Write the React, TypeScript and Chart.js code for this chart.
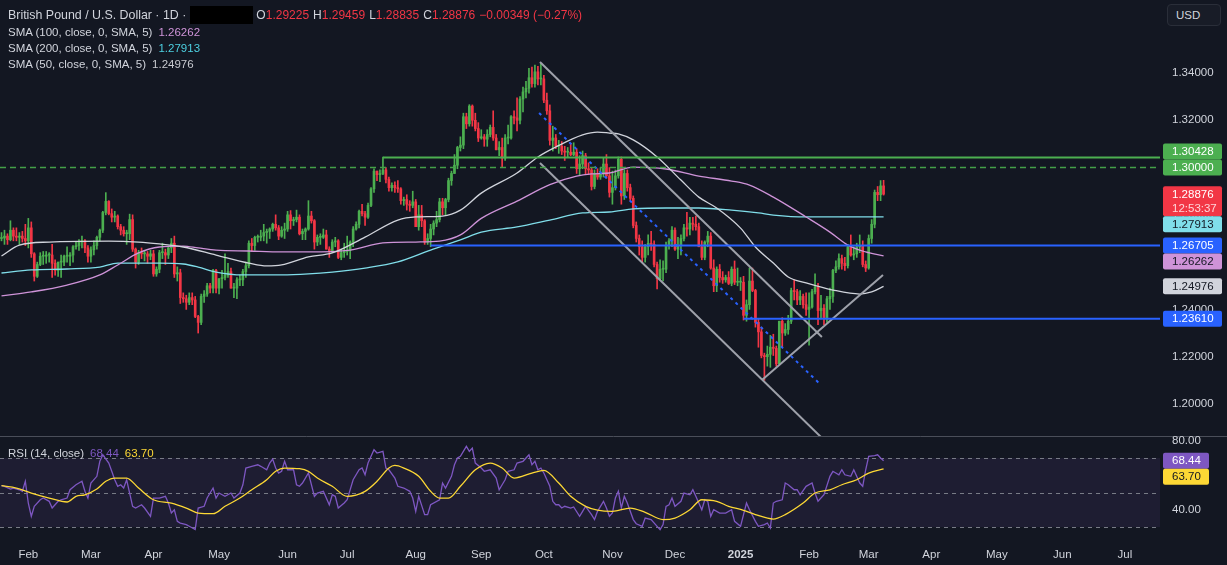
import React, { useEffect, useRef } from 'react';
import { Chart, registerables } from 'chart.js';

Chart.register(...registerables);

// ---------------- data ----------------
// daily candles as [high, low, close]; open = previous close
const firstOpen = 1.27;
const jan24 = [
  [1.2725, 1.2690, 1.2702], [1.2735, 1.2675, 1.2710], [1.2720, 1.2675, 1.2695], [1.2775, 1.2690, 1.2735],
  [1.2745, 1.2690, 1.2710], [1.2745, 1.2690, 1.2705], [1.2725, 1.2675, 1.2710], [1.2730, 1.2685, 1.2700],
  [1.2760, 1.2670, 1.2690],
];
const feb24 = [
  [1.2785, 1.2660, 1.2745], [1.2770, 1.2620, 1.2635], [1.2640, 1.2520, 1.2540], [1.2600, 1.2535, 1.2590],
  [1.2640, 1.2585, 1.2625], [1.2645, 1.2590, 1.2625], [1.2645, 1.2595, 1.2630], [1.2640, 1.2600, 1.2630],
  [1.2675, 1.2535, 1.2595], [1.2610, 1.2545, 1.2565], [1.2600, 1.2540, 1.2600], [1.2630, 1.2535, 1.2600],
  [1.2630, 1.2585, 1.2625], [1.2665, 1.2600, 1.2625], [1.2640, 1.2585, 1.2630], [1.2670, 1.2600, 1.2665],
  [1.2685, 1.2655, 1.2670], [1.2695, 1.2650, 1.2685], [1.2710, 1.2660, 1.2690], [1.2695, 1.2640, 1.2660],
  [1.2670, 1.2600, 1.2625],
];
const mar24 = [
  [1.2665, 1.2600, 1.2652], [1.2690, 1.2630, 1.2670], [1.2710, 1.2655, 1.2705], [1.2740, 1.2690, 1.2735],
  [1.2815, 1.2725, 1.2810], [1.2894, 1.2800, 1.2857], [1.2860, 1.2800, 1.2805], [1.2825, 1.2770, 1.2790],
  [1.2815, 1.2770, 1.2795], [1.2800, 1.2740, 1.2750], [1.2760, 1.2715, 1.2735], [1.2750, 1.2710, 1.2720],
  [1.2735, 1.2675, 1.2720], [1.2803, 1.2695, 1.2780], [1.2800, 1.2645, 1.2655], [1.2660, 1.2575, 1.2600],
  [1.2650, 1.2590, 1.2640], [1.2660, 1.2615, 1.2635], [1.2650, 1.2605, 1.2635], [1.2645, 1.2595, 1.2625],
  [1.2650, 1.2610, 1.2635],
];
const apr24 = [
  [1.2650, 1.2540, 1.2550], [1.2580, 1.2540, 1.2570], [1.2650, 1.2555, 1.2640], [1.2680, 1.2615, 1.2640],
  [1.2655, 1.2590, 1.2630], [1.2665, 1.2615, 1.2660], [1.2700, 1.2640, 1.2680], [1.2710, 1.2535, 1.2550],
  [1.2580, 1.2520, 1.2555], [1.2570, 1.2425, 1.2450], [1.2470, 1.2430, 1.2445], [1.2460, 1.2400, 1.2430],
  [1.2470, 1.2420, 1.2450], [1.2470, 1.2420, 1.2440], [1.2455, 1.2365, 1.2370], [1.2375, 1.2300, 1.2345],
  [1.2465, 1.2335, 1.2455], [1.2480, 1.2430, 1.2465], [1.2510, 1.2455, 1.2500], [1.2510, 1.2470, 1.2490],
  [1.2570, 1.2470, 1.2565], [1.2570, 1.2470, 1.2490],
];
const may24 = [
  [1.2530, 1.2465, 1.2530], [1.2565, 1.2490, 1.2535], [1.2635, 1.2525, 1.2545], [1.2595, 1.2535, 1.2560],
  [1.2575, 1.2490, 1.2490], [1.2510, 1.2450, 1.2490], [1.2535, 1.2445, 1.2525], [1.2545, 1.2500, 1.2525],
  [1.2570, 1.2500, 1.2560], [1.2600, 1.2535, 1.2585], [1.2690, 1.2575, 1.2680], [1.2700, 1.2645, 1.2670],
  [1.2710, 1.2650, 1.2705], [1.2715, 1.2685, 1.2705], [1.2735, 1.2690, 1.2710], [1.2760, 1.2690, 1.2725],
  [1.2740, 1.2680, 1.2730], [1.2745, 1.2700, 1.2740], [1.2765, 1.2730, 1.2760], [1.2800, 1.2735, 1.2745],
  [1.2755, 1.2695, 1.2710], [1.2750, 1.2705, 1.2735], [1.2765, 1.2700, 1.2740],
];
const jun24 = [
  [1.2815, 1.2730, 1.2800], [1.2818, 1.2740, 1.2775], [1.2790, 1.2755, 1.2780], [1.2820, 1.2770, 1.2790],
  [1.2800, 1.2715, 1.2720], [1.2740, 1.2695, 1.2730], [1.2745, 1.2695, 1.2740], [1.2860, 1.2735, 1.2795],
  [1.2815, 1.2765, 1.2775], [1.2780, 1.2655, 1.2685], [1.2715, 1.2670, 1.2705], [1.2720, 1.2675, 1.2705],
  [1.2740, 1.2700, 1.2715], [1.2735, 1.2655, 1.2655], [1.2665, 1.2620, 1.2645], [1.2695, 1.2640, 1.2685],
  [1.2705, 1.2665, 1.2690], [1.2695, 1.2615, 1.2620], [1.2655, 1.2610, 1.2640], [1.2680, 1.2620, 1.2645],
];
const jul24 = [
  [1.2710, 1.2630, 1.2650], [1.2690, 1.2615, 1.2685], [1.2750, 1.2665, 1.2740], [1.2770, 1.2735, 1.2760],
  [1.2820, 1.2745, 1.2815], [1.2845, 1.2795, 1.2805], [1.2815, 1.2755, 1.2790], [1.2850, 1.2785, 1.2840],
  [1.2915, 1.2835, 1.2910], [1.2995, 1.2895, 1.2985], [1.2985, 1.2945, 1.2970], [1.2990, 1.2940, 1.2975],
  [1.3044, 1.2970, 1.2990], [1.3000, 1.2935, 1.2950], [1.2960, 1.2900, 1.2915], [1.2935, 1.2900, 1.2925],
  [1.2940, 1.2895, 1.2915], [1.2945, 1.2895, 1.2910], [1.2915, 1.2845, 1.2860], [1.2875, 1.2840, 1.2865],
  [1.2885, 1.2820, 1.2845], [1.2860, 1.2815, 1.2840], [1.2900, 1.2830, 1.2855],
];
const aug24 = [
  [1.2865, 1.2750, 1.2750], [1.2840, 1.2735, 1.2800], [1.2840, 1.2750, 1.2775], [1.2780, 1.2675, 1.2685],
  [1.2720, 1.2675, 1.2700], [1.2760, 1.2665, 1.2740], [1.2775, 1.2715, 1.2765], [1.2815, 1.2750, 1.2780],
  [1.2870, 1.2770, 1.2855], [1.2870, 1.2800, 1.2830], [1.2870, 1.2800, 1.2865], [1.2955, 1.2855, 1.2945],
  [1.2985, 1.2925, 1.2975], [1.3055, 1.2975, 1.3010], [1.3090, 1.2995, 1.3085], [1.3130, 1.3070, 1.3095],
  [1.3230, 1.3080, 1.3215], [1.3230, 1.3165, 1.3185], [1.3266, 1.3175, 1.3260], [1.3265, 1.3175, 1.3200],
  [1.3230, 1.3155, 1.3165], [1.3190, 1.3110, 1.3125],
];
const sep24 = [
  [1.3160, 1.3120, 1.3130], [1.3140, 1.3090, 1.3120], [1.3160, 1.3090, 1.3140], [1.3180, 1.3130, 1.3170],
  [1.3240, 1.3115, 1.3125], [1.3140, 1.3075, 1.3075], [1.3110, 1.3050, 1.3085], [1.3125, 1.3002, 1.3040],
  [1.3140, 1.3030, 1.3125], [1.3180, 1.3100, 1.3125], [1.3220, 1.3120, 1.3215], [1.3240, 1.3185, 1.3210],
  [1.3295, 1.3155, 1.3200], [1.3300, 1.3185, 1.3290], [1.3340, 1.3235, 1.3320], [1.3365, 1.3295, 1.3335],
  [1.3420, 1.3315, 1.3380], [1.3425, 1.3340, 1.3355], [1.3434, 1.3340, 1.3405], [1.3428, 1.3350, 1.3375],
  [1.3440, 1.3350, 1.3375],
];
const oct24 = [
  [1.3390, 1.3275, 1.3285], [1.3315, 1.3225, 1.3240], [1.3265, 1.3095, 1.3115], [1.3175, 1.3070, 1.3125],
  [1.3140, 1.3080, 1.3090], [1.3115, 1.3060, 1.3090], [1.3110, 1.3055, 1.3070], [1.3090, 1.3030, 1.3065],
  [1.3085, 1.3045, 1.3065], [1.3100, 1.3050, 1.3055], [1.3105, 1.3050, 1.3065], [1.3080, 1.2975, 1.2995],
  [1.3050, 1.2970, 1.3015], [1.3070, 1.2995, 1.3050], [1.3060, 1.2970, 1.2995], [1.3020, 1.2970, 1.2990],
  [1.3000, 1.2905, 1.2920], [1.2990, 1.2910, 1.2975], [1.2995, 1.2950, 1.2960], [1.3000, 1.2950, 1.2975],
  [1.3040, 1.2960, 1.3015], [1.3055, 1.2955, 1.2965], [1.3000, 1.2875, 1.2895],
];
const nov24 = [
  [1.2985, 1.2845, 1.2915], [1.2990, 1.2905, 1.2965], [1.3045, 1.2955, 1.3035], [1.3045, 1.2845, 1.2880],
  [1.2990, 1.2865, 1.2975], [1.2990, 1.2900, 1.2915], [1.2930, 1.2860, 1.2870], [1.2880, 1.2745, 1.2755],
  [1.2770, 1.2685, 1.2700], [1.2715, 1.2630, 1.2665], [1.2690, 1.2600, 1.2620], [1.2675, 1.2600, 1.2665],
  [1.2715, 1.2630, 1.2680], [1.2730, 1.2650, 1.2675], [1.2690, 1.2580, 1.2590], [1.2600, 1.2487, 1.2530],
  [1.2610, 1.2525, 1.2570], [1.2605, 1.2520, 1.2570], [1.2685, 1.2555, 1.2670], [1.2700, 1.2655, 1.2690],
  [1.2750, 1.2665, 1.2735],
];
const dec24 = [
  [1.2745, 1.2650, 1.2655], [1.2705, 1.2615, 1.2670], [1.2715, 1.2630, 1.2700], [1.2760, 1.2690, 1.2745],
  [1.2811, 1.2710, 1.2740], [1.2790, 1.2715, 1.2765], [1.2790, 1.2735, 1.2760], [1.2795, 1.2735, 1.2750],
  [1.2765, 1.2665, 1.2665], [1.2690, 1.2610, 1.2620], [1.2690, 1.2610, 1.2685], [1.2730, 1.2665, 1.2710],
  [1.2725, 1.2570, 1.2575], [1.2610, 1.2475, 1.2500], [1.2580, 1.2475, 1.2570], [1.2590, 1.2515, 1.2535],
  [1.2560, 1.2510, 1.2525], [1.2545, 1.2515, 1.2535], [1.2560, 1.2505, 1.2510], [1.2580, 1.2500, 1.2570],
  [1.2605, 1.2505, 1.2515], [1.2575, 1.2500, 1.2515],
];
const jan25 = [
  [1.2535, 1.2480, 1.2515], [1.2540, 1.2355, 1.2375], [1.2440, 1.2350, 1.2420], [1.2575, 1.2400, 1.2520],
  [1.2575, 1.2475, 1.2480], [1.2485, 1.2325, 1.2345], [1.2360, 1.2240, 1.2305], [1.2325, 1.2195, 1.2205],
  [1.2215, 1.2100, 1.2200], [1.2245, 1.2160, 1.2210], [1.2290, 1.2155, 1.2240], [1.2295, 1.2205, 1.2235],
  [1.2245, 1.2160, 1.2170], [1.2350, 1.2175, 1.2350], [1.2365, 1.2240, 1.2300], [1.2340, 1.2290, 1.2315],
  [1.2375, 1.2295, 1.2350], [1.2490, 1.2340, 1.2480], [1.2525, 1.2440, 1.2475], [1.2485, 1.2420, 1.2440],
  [1.2480, 1.2420, 1.2455], [1.2465, 1.2405, 1.2420], [1.2470, 1.2375, 1.2400],
];
const feb25 = [
  [1.2470, 1.2249, 1.2410], [1.2485, 1.2405, 1.2475], [1.2550, 1.2465, 1.2495], [1.2510, 1.2335, 1.2395],
  [1.2460, 1.2360, 1.2405], [1.2420, 1.2335, 1.2365], [1.2455, 1.2345, 1.2445], [1.2490, 1.2400, 1.2455],
  [1.2570, 1.2430, 1.2565], [1.2605, 1.2555, 1.2580], [1.2635, 1.2570, 1.2615], [1.2630, 1.2570, 1.2595],
  [1.2620, 1.2565, 1.2585], [1.2675, 1.2575, 1.2665], [1.2715, 1.2625, 1.2630], [1.2665, 1.2610, 1.2635],
  [1.2680, 1.2620, 1.2665], [1.2715, 1.2640, 1.2670], [1.2690, 1.2580, 1.2590], [1.2605, 1.2560, 1.2575],
];
const mar25 = [
  [1.2715, 1.2570, 1.2700], [1.2780, 1.2680, 1.2760], [1.2905, 1.2745, 1.2895], [1.2920, 1.2860, 1.2885],
  [1.2945, 1.2860, 1.29225], [1.29459, 1.28835, 1.28876],
];

// moving averages as [bar, value]
const sma50 = [
  [0, 1.2626], [6, 1.2672], [16, 1.2685], [36, 1.2689], [46, 1.2685], [53, 1.2677], [61, 1.2664], [72, 1.2630],
  [83, 1.2596], [89, 1.2584], [94, 1.2588], [103, 1.2622], [111, 1.2639], [122, 1.2706], [133, 1.2778],
  [139, 1.2791], [148, 1.2795], [154, 1.2820], [161, 1.2892], [173, 1.2977], [180, 1.3045], [186, 1.3087],
  [195, 1.3138], [200, 1.3150], [204, 1.3146], [207, 1.3142], [212, 1.3117], [220, 1.3045], [228, 1.2947],
  [234, 1.2875], [240, 1.2829], [248, 1.2744], [253, 1.2664], [259, 1.2596], [264, 1.2537], [270, 1.2512],
  [279, 1.2482], [288, 1.2465], [292, 1.2474], [296, 1.24976],
];
const sma100 = [
  [0, 1.2457], [10, 1.2474], [22, 1.2503], [33, 1.2546], [39, 1.2588], [46, 1.2639], [53, 1.2664], [61, 1.2668],
  [66, 1.2660], [72, 1.2651], [83, 1.2647], [94, 1.2643], [103, 1.2643], [117, 1.2651], [128, 1.2681],
  [139, 1.2685], [147, 1.2689], [154, 1.2715], [161, 1.2785], [173, 1.2858], [184, 1.2928], [193, 1.2964],
  [198, 1.2973], [204, 1.2977], [212, 1.3002], [223, 1.2994], [234, 1.2964], [245, 1.2943], [251, 1.2926],
  [259, 1.2875], [270, 1.2791], [278, 1.2727], [284, 1.2672], [290, 1.2643], [296, 1.26262],
];
const sma200 = [
  [0, 1.2554], [10, 1.2567], [22, 1.2571], [33, 1.2579], [39, 1.2596], [53, 1.2596], [61, 1.2592], [66, 1.2579],
  [72, 1.2558], [81, 1.2546], [94, 1.2546], [103, 1.2550], [111, 1.2558], [122, 1.2575], [133, 1.2601],
  [144, 1.2651], [154, 1.2694], [161, 1.2727], [173, 1.2749], [184, 1.2778], [195, 1.2808], [204, 1.2812],
  [212, 1.2825], [223, 1.2829], [234, 1.2829], [245, 1.2820], [254, 1.2808], [259, 1.2799], [270, 1.2791],
  [281, 1.2791], [296, 1.27913],
];

// RSI(14) and its moving average as [bar, value]
const rsiLine = [
  [0, 54.0], [1, 53.6], [3, 52.0], [4, 52.6], [6, 51.6], [7, 50.7], [8, 56.5], [9, 43.9], [10, 36.2], [11, 42.0],
  [13, 45.8], [14, 46.8], [16, 44.9], [17, 41.0], [19, 44.9], [20, 45.8], [22, 46.8], [23, 51.6], [25, 54.5],
  [27, 56.5], [28, 50.7], [29, 46.8], [30, 55.5], [32, 59.4], [33, 68.1], [34, 71.9], [36, 67.1], [37, 62.3],
  [38, 57.4], [39, 53.6], [40, 54.5], [41, 52.6], [42, 57.4], [43, 49.7], [44, 42.0], [45, 41.0], [47, 42.9],
  [48, 41.0], [50, 36.2], [51, 46.8], [53, 46.8], [55, 47.8], [56, 43.9], [57, 38.1], [58, 40.0], [59, 33.3],
  [60, 32.3], [62, 31.4], [63, 30.4], [65, 28.5], [66, 41.0], [68, 42.0], [69, 46.8], [71, 52.6], [72, 46.8],
  [73, 49.7], [75, 47.8], [77, 49.7], [78, 46.8], [80, 49.7], [81, 54.5], [82, 64.2], [84, 65.2], [86, 66.1],
  [87, 65.2], [89, 63.2], [90, 67.1], [91, 69.4], [92, 64.2], [93, 61.3], [94, 62.3], [95, 68.1], [96, 63.2],
  [98, 63.2], [99, 54.5], [100, 53.6], [101, 55.5], [103, 61.3], [105, 47.8], [106, 49.7], [108, 50.7],
  [110, 42.9], [111, 48.7], [112, 47.8], [113, 41.0], [115, 43.9], [116, 45.8], [118, 57.4], [120, 63.2],
  [121, 64.2], [122, 60.3], [123, 67.1], [125, 74.8], [126, 72.9], [128, 73.9], [129, 64.2], [130, 63.2],
  [132, 58.4], [133, 53.6], [135, 52.6], [137, 50.7], [138, 46.8], [139, 39.1], [140, 47.8], [142, 37.2],
  [143, 37.2], [144, 42.9], [147, 45.8], [148, 55.5], [149, 52.6], [151, 59.4], [152, 66.1], [153, 70.0],
  [154, 71.0], [156, 76.8], [157, 73.9], [158, 75.8], [159, 67.1], [161, 64.2], [162, 62.3], [164, 63.2],
  [166, 58.4], [167, 51.6], [168, 54.5], [169, 57.4], [170, 62.3], [172, 63.2], [173, 67.1], [175, 68.1],
  [177, 71.9], [178, 66.1], [179, 68.1], [180, 63.2], [181, 64.2], [182, 61.3], [184, 53.6], [185, 44.9],
  [186, 42.9], [187, 42.9], [188, 41.0], [189, 42.0], [191, 41.0], [192, 41.6], [194, 36.2], [195, 39.1],
  [196, 42.0], [198, 37.2], [199, 34.3], [200, 39.1], [201, 42.0], [202, 44.9], [203, 41.0], [204, 36.2],
  [205, 38.1], [206, 46.8], [207, 50.7], [208, 41.0], [209, 47.8], [210, 43.9], [212, 34.3], [213, 31.9],
  [215, 30.4], [216, 35.2], [218, 34.3], [220, 30.4], [221, 28.5], [222, 31.4], [223, 42.0], [224, 42.9],
  [225, 46.8], [226, 42.0], [228, 44.9], [229, 49.7], [231, 48.7], [232, 51.6], [233, 47.8], [235, 40.0],
  [236, 45.8], [237, 44.9], [238, 36.2], [239, 40.0], [241, 38.1], [243, 38.1], [245, 40.0], [246, 33.3],
  [248, 30.4], [249, 37.2], [250, 43.9], [251, 40.0], [253, 33.3], [254, 30.4], [256, 31.4], [257, 32.3],
  [258, 29.4], [259, 43.9], [260, 44.9], [262, 45.8], [263, 55.5], [264, 54.5], [266, 51.6], [267, 51.6],
  [268, 48.7], [270, 53.6], [272, 55.5], [273, 49.7], [274, 44.9], [276, 48.7], [278, 59.4], [279, 62.3],
  [281, 60.3], [282, 63.2], [283, 60.3], [285, 59.4], [286, 63.2], [288, 55.5], [289, 53.6], [290, 63.2],
  [291, 71.0], [293, 71.4], [294, 71.9], [295, 70.0], [296, 68.44],
];
const rsiMa = [
  [0, 54.0], [5, 52.6], [10, 49.7], [16, 46.8], [22, 44.5], [25, 47.8], [28, 48.7], [32, 52.0], [35, 56.5],
  [38, 58.4], [42, 58.4], [46, 52.6], [51, 45.8], [57, 43.9], [62, 41.0], [66, 38.1], [71, 37.7], [75, 42.0],
  [80, 46.8], [84, 51.6], [89, 57.4], [92, 62.3], [95, 64.2], [100, 63.8], [103, 62.3], [106, 58.4],
  [111, 53.6], [116, 47.8], [122, 50.7], [126, 56.5], [130, 64.2], [132, 65.7], [135, 64.2], [140, 59.4],
  [144, 50.7], [147, 46.8], [150, 46.8], [154, 53.6], [159, 63.2], [164, 67.1], [168, 64.2], [172, 58.4],
  [178, 61.3], [182, 62.9], [187, 55.5], [191, 47.8], [196, 42.0], [200, 39.8], [205, 39.1], [211, 41.0],
  [216, 38.5], [222, 34.3], [226, 35.2], [231, 40.0], [235, 45.8], [240, 44.9], [244, 42.0], [249, 39.7],
  [253, 37.2], [259, 34.6], [263, 37.2], [269, 43.9], [273, 49.7], [278, 51.6], [282, 54.5], [287, 57.4],
  [291, 61.3], [296, 63.70],
];

// horizontal levels and their starting bar (null = full width)
const levelPrices = [1.30428, 1.3, 1.26705, 1.2361];
const levelStartBars = [128, null, 144, 249];
// trend drawings as [[bar, price], [bar, price]]
const channelUpper = [[180.7, 1.34465], [275.3, 1.22832]];
const channelLower = [[180.7, 1.30193], [275.3, 1.18564]];
const channelMid = [[180.4, 1.32308], [275.0, 1.20802]];
const risingLine = [[255.2, 1.21013], [295.8, 1.25455]];

// axes
const priceTicks = [1.2, 1.22, 1.24, 1.26, 1.28, 1.3, 1.32, 1.34];
const rsiTicks = [80, 40];
const monthTickBars = [9, 30, 51, 73, 96, 116, 139, 161, 182, 205, 226, 248, 271, 291, 312, 334, 356, 377];
const monthTickLabels = ['Feb', 'Mar', 'Apr', 'May', 'Jun', 'Jul', 'Aug', 'Sep', 'Oct', 'Nov', 'Dec', '2025',
  'Feb', 'Mar', 'Apr', 'May', 'Jun', 'Jul'];
const countdown = '12:53:37';

// ---------------- styling / layout ----------------
const BG = '#131722';
const TXT = '#d1d4dc';
const UP = '#4caf50';
const DOWN = '#f23645';
const BLUE = '#2962ff';
const C50 = '#d1d4dc';
const C100 = '#ce93d8';
const C200 = '#80deea';
const RSI_C = '#7e57c2';
const RSI_MA_C = '#fdd835';
const FONT = '"Liberation Sans", Arial, sans-serif';
const W = 1227;
const AXIS_W = 67;
const MAIN_H = 436;
const BAR_PX = 2.98;
const X0_PX = 1.5;
const X_MIN = -X0_PX / BAR_PX;
const X_MAX = (W - AXIS_W - X0_PX) / BAR_PX;
const P_MAX = 1.37088;
const P_MIN = 1.18645;
const R_MAX = 82.2;
const R_MIN = 24.2;

const bars = [...jan24, ...feb24, ...mar24, ...apr24, ...may24, ...jun24, ...jul24, ...aug24, ...sep24,
  ...oct24, ...nov24, ...dec24, ...jan25, ...feb25, ...mar25];
const opens = bars.map((b, i) => (i === 0 ? firstOpen : bars[i - 1][2]));
const isUp = bars.map((b, i) => b[2] >= opens[i]);
const last = bars.length - 1;

const fmt5 = (v: number) => v.toFixed(5);
const pts = (arr: number[][]) => arr.map(([x, y]) => ({ x, y }));
const lastOf = (arr: number[][]) => arr[arr.length - 1][1];

function roundRect(ctx: CanvasRenderingContext2D, x: number, y: number, w: number, h: number, r: number) {
  ctx.beginPath();
  ctx.moveTo(x + r, y);
  ctx.lineTo(x + w - r, y);
  ctx.quadraticCurveTo(x + w, y, x + w, y + r);
  ctx.lineTo(x + w, y + h - r);
  ctx.quadraticCurveTo(x + w, y + h, x + w - r, y + h);
  ctx.lineTo(x + r, y + h);
  ctx.quadraticCurveTo(x, y + h, x, y + h - r);
  ctx.lineTo(x, y + r);
  ctx.quadraticCurveTo(x, y, x + r, y);
  ctx.closePath();
}

type Box = { py: number; lines: string[]; bg: string; fg: string; sub?: string; pin?: boolean };

// place value labels; overlapping labels form a group which is centred on its targets
// (or anchored on a pinned label)
function layoutBoxes(items: Box[]) {
  const hOf = (b: Box) => (b.lines.length === 2 ? 30 : 16);
  items.sort((a, b) => a.py - b.py);
  const groups = items.map((b) => ({ items: [b], top: b.py - 8 }));
  const place = (g: { items: Box[]; top: number }) => {
    let off = 0;
    const cands: number[] = [];
    let pinTop: number | null = null;
    for (const b of g.items) {
      const t = b.py - 8 - off;
      cands.push(t);
      if (b.pin) pinTop = t;
      off += hOf(b);
    }
    g.top = pinTop !== null ? pinTop : cands.reduce((s, v) => s + v, 0) / cands.length;
  };
  let changed = true;
  while (changed) {
    changed = false;
    for (let i = 0; i < groups.length - 1; i++) {
      const a = groups[i];
      const b = groups[i + 1];
      const aBottom = a.top + a.items.reduce((s, x) => s + hOf(x), 0);
      if (aBottom > b.top) {
        const m = { items: [...a.items, ...b.items], top: 0 };
        place(m);
        groups.splice(i, 2, m);
        changed = true;
        break;
      }
    }
  }
  const out: { box: Box; top: number; h: number }[] = [];
  groups.forEach((g) => {
    let t = g.top;
    g.items.forEach((b) => {
      out.push({ box: b, top: t, h: hOf(b) });
      t += hOf(b);
    });
  });
  return out;
}

function drawBoxes(ctx: CanvasRenderingContext2D, items: Box[], x: number, w: number) {
  ctx.font = `11.5px ${FONT}`;
  ctx.textBaseline = 'middle';
  ctx.textAlign = 'left';
  layoutBoxes(items).forEach(({ box, top, h }) => {
    ctx.fillStyle = box.bg;
    roundRect(ctx, x, top, w, h, 2);
    ctx.fill();
    box.lines.forEach((t, k) => {
      ctx.fillStyle = k === 1 && box.sub ? box.sub : box.fg;
      ctx.fillText(t, x + 9, top + 8.5 + k * 14);
    });
  });
}

const mainPlugin = {
  id: 'mainDeco',
  afterDraw(chart: any) {
    const { ctx, chartArea } = chart;
    const y = chart.scales.y;
    ctx.save();
    ctx.font = `11.5px ${FONT}`;
    ctx.fillStyle = TXT;
    ctx.textBaseline = 'middle';
    ctx.textAlign = 'left';
    priceTicks.forEach((v) => ctx.fillText(fmt5(v), chartArea.right + 12, y.getPixelForValue(v)));
    const boxX = chartArea.right + 3;
    const items: Box[] = [
      { py: y.getPixelForValue(levelPrices[0]), lines: [fmt5(levelPrices[0])], bg: UP, fg: '#ffffff' },
      { py: y.getPixelForValue(levelPrices[1]), lines: [fmt5(levelPrices[1])], bg: UP, fg: '#ffffff', pin: true },
      { py: y.getPixelForValue(bars[last][2]), lines: [fmt5(bars[last][2]), countdown], bg: DOWN, fg: '#ffffff', sub: '#ffd6da', pin: true },
      { py: y.getPixelForValue(lastOf(sma200)), lines: [fmt5(lastOf(sma200))], bg: C200, fg: '#131722' },
      { py: y.getPixelForValue(levelPrices[2]), lines: [fmt5(levelPrices[2])], bg: BLUE, fg: '#ffffff', pin: true },
      { py: y.getPixelForValue(lastOf(sma100)), lines: [fmt5(lastOf(sma100))], bg: C100, fg: '#131722' },
      { py: y.getPixelForValue(lastOf(sma50)), lines: [fmt5(lastOf(sma50))], bg: C50, fg: '#131722' },
      { py: y.getPixelForValue(levelPrices[3]), lines: [fmt5(levelPrices[3])], bg: BLUE, fg: '#ffffff' },
    ];
    drawBoxes(ctx, items, boxX, 59);
    ctx.restore();
  },
};

const rsiPlugin = {
  id: 'rsiDeco',
  beforeDatasetsDraw(chart: any) {
    const { ctx, chartArea } = chart;
    const y = chart.scales.y;
    ctx.save();
    const y70 = y.getPixelForValue(70);
    const y30 = y.getPixelForValue(30);
    ctx.fillStyle = 'rgba(126, 87, 194, 0.1)';
    ctx.fillRect(chartArea.left, y70, chartArea.right - chartArea.left, y30 - y70);
    ctx.strokeStyle = '#787b86';
    ctx.lineWidth = 1;
    ctx.setLineDash([4, 4]);
    [70, 50, 30].forEach((v) => {
      const py = Math.round(y.getPixelForValue(v)) + 0.5;
      ctx.beginPath();
      ctx.moveTo(chartArea.left, py);
      ctx.lineTo(chartArea.right, py);
      ctx.stroke();
    });
    ctx.restore();
  },
  afterDraw(chart: any) {
    const { ctx, chartArea } = chart;
    const y = chart.scales.y;
    ctx.save();
    ctx.strokeStyle = '#4a4e59';
    ctx.lineWidth = 1;
    ctx.beginPath();
    ctx.moveTo(0, 0.5);
    ctx.lineTo(chart.width, 0.5);
    ctx.stroke();
    ctx.font = `11.5px ${FONT}`;
    ctx.fillStyle = TXT;
    ctx.textBaseline = 'middle';
    ctx.textAlign = 'left';
    rsiTicks.forEach((v) => ctx.fillText(v.toFixed(2), chartArea.right + 12, y.getPixelForValue(v)));
    const items: Box[] = [
      { py: y.getPixelForValue(lastOf(rsiLine)), lines: [lastOf(rsiLine).toFixed(2)], bg: RSI_C, fg: '#ffffff', pin: true },
      { py: y.getPixelForValue(lastOf(rsiMa)), lines: [lastOf(rsiMa).toFixed(2)], bg: RSI_MA_C, fg: '#131722' },
    ];
    drawBoxes(ctx, items, chartArea.right + 3, 46);
    ctx.restore();
  },
};

function lineDs(data: { x: number; y: number }[], color: string, width: number, extra: any = {}) {
  return {
    type: 'line',
    data,
    borderColor: color,
    borderWidth: width,
    pointRadius: 0,
    fill: false,
    tension: 0,
    ...extra,
  };
}

function mainConfig(): any {
  const wick = bars.map((b, i) => ({
    x: i,
    y: [Math.min(b[1], opens[i], b[2]), Math.max(b[0], opens[i], b[2])],
  }));
  const body = bars.map((b, i) => ({ x: i, y: [opens[i], b[2]] }));
  const colorFn = (c: any) => (isUp[c.dataIndex] ? UP : DOWN);
  const levels = levelPrices.map((p, k) => {
    const from = levelStartBars[k] === null ? X_MIN : (levelStartBars[k] as number);
    return [{ x: from, y: p }, { x: X_MAX, y: p }];
  });
  const datasets = [
    lineDs(levels[0], UP, 2),
    lineDs(levels[1], '#43a047', 1.4, { borderDash: [6, 4] }),
    lineDs(levels[2], BLUE, 2),
    lineDs(levels[3], BLUE, 2),
    lineDs(pts(channelUpper), '#9ea1aa', 2),
    lineDs(pts(channelLower), '#9ea1aa', 2),
    lineDs(pts(channelMid), BLUE, 2, { borderDash: [3, 4] }),
    lineDs(pts(risingLine), '#9ea1aa', 2),
    lineDs(pts(sma50), C50, 1.3, { cubicInterpolationMode: 'monotone' }),
    lineDs(pts(sma100), C100, 1.3, { cubicInterpolationMode: 'monotone' }),
    lineDs(pts(sma200), C200, 1.3, { cubicInterpolationMode: 'monotone' }),
    { type: 'bar', data: body, backgroundColor: colorFn, barThickness: 2, grouped: false, borderWidth: 0, minBarLength: 1 },
    { type: 'bar', data: wick, backgroundColor: colorFn, barThickness: 1, grouped: false, borderWidth: 0 },
  ];
  return {
    type: 'bar',
    data: { datasets },
    options: {
      responsive: false,
      animation: false,
      devicePixelRatio: 1,
      events: [],
      layout: { padding: 0 },
      plugins: { legend: { display: false }, tooltip: { enabled: false } },
      scales: {
        x: { type: 'linear', min: X_MIN, max: X_MAX, display: false, offset: false, grid: { display: false } },
        y: {
          type: 'linear', position: 'right', min: P_MIN, max: P_MAX,
          grid: { display: false }, border: { display: false }, ticks: { display: false },
          afterFit: (s: any) => { s.width = AXIS_W; },
        },
      },
    },
    plugins: [mainPlugin],
  };
}

function rsiConfig(): any {
  return {
    type: 'line',
    data: {
      datasets: [
        lineDs(pts(rsiMa), RSI_MA_C, 1.3, { cubicInterpolationMode: 'monotone' }),
        lineDs(pts(rsiLine), RSI_C, 1.3),
      ],
    },
    options: {
      responsive: false,
      animation: false,
      devicePixelRatio: 1,
      events: [],
      layout: { padding: { top: 1 } },
      plugins: { legend: { display: false }, tooltip: { enabled: false } },
      scales: {
        x: {
          type: 'linear', min: X_MIN, max: X_MAX, offset: false,
          grid: { display: false }, border: { display: false },
          afterBuildTicks: (s: any) => { s.ticks = monthTickBars.map((v) => ({ value: v })); },
          afterFit: (s: any) => { s.height = 28; },
          ticks: {
            color: TXT, padding: 3, autoSkip: false, maxRotation: 0,
            font: (c: any) => ({ family: FONT, size: 11.5, weight: c.index === 11 ? 'bold' : 'normal' }),
            callback: (_v: any, i: number) => monthTickLabels[i],
          },
        },
        y: {
          type: 'linear', position: 'right', min: R_MIN, max: R_MAX,
          grid: { display: false }, border: { display: false }, ticks: { display: false },
          afterFit: (s: any) => { s.width = AXIS_W; },
        },
      },
    },
    plugins: [rsiPlugin],
  };
}

export default function App() {
  const mainRef = useRef<HTMLCanvasElement>(null);
  const rsiRef = useRef<HTMLCanvasElement>(null);
  useEffect(() => {
    document.body.style.margin = '0';
    document.body.style.background = BG;
    const main = new Chart(mainRef.current as HTMLCanvasElement, mainConfig());
    const rsi = new Chart(rsiRef.current as HTMLCanvasElement, rsiConfig());
    return () => {
      main.destroy();
      rsi.destroy();
    };
  }, []);

  const o = opens[last];
  const [h, l, c] = bars[last];
  const chg = c - o;
  const pct = (chg / o) * 100;
  const sign = (v: number) => (v < 0 ? '\u2212' : '+');
  const legendRow = (label: string, value: string, color: string, top: number) => (
    <div style={{ position: 'absolute', left: 8, top, fontSize: 11.5, lineHeight: '16px', color: TXT, whiteSpace: 'nowrap' }}>
      <span>{label}</span>
      <span style={{ color, marginLeft: 6 }}>{value}</span>
    </div>
  );
  const ohlc = (k: string, v: number) => (
    <span style={{ marginRight: 4 }}>
      <span>{k}</span><span style={{ color: DOWN }}>{fmt5(v)}</span>
    </span>
  );

  return (
    <div style={{ position: 'relative', width: W, height: 565, background: BG, overflow: 'hidden', fontFamily: FONT }}>
      <canvas ref={mainRef} width={W} height={MAIN_H} style={{ position: 'absolute', left: 0, top: 0 }} />
      <canvas ref={rsiRef} width={W} height={565 - MAIN_H} style={{ position: 'absolute', left: 0, top: MAIN_H }} />
      <div style={{ position: 'absolute', left: 8, top: 6, height: 18, display: 'flex', alignItems: 'center', color: TXT, whiteSpace: 'nowrap' }}>
        <span style={{ fontSize: 12.4 }}>British Pound / U.S. Dollar · 1D ·</span>
        <span style={{ display: 'inline-block', width: 63, height: 18, background: '#000', marginLeft: 4, marginRight: 3 }} />
        <span style={{ fontSize: 12, display: 'flex' }}>
          {ohlc('O', o)}
          {ohlc('H', h)}
          {ohlc('L', l)}
          {ohlc('C', c)}
          <span style={{ color: DOWN }}>{`${sign(chg)}${Math.abs(chg).toFixed(5)} (${sign(pct)}${Math.abs(pct).toFixed(2)}%)`}</span>
        </span>
      </div>
      {legendRow('SMA (100, close, 0, SMA, 5)', fmt5(lastOf(sma100)), C100, 24)}
      {legendRow('SMA (200, close, 0, SMA, 5)', fmt5(lastOf(sma200)), '#4dd0e1', 40)}
      {legendRow('SMA (50, close, 0, SMA, 5)', fmt5(lastOf(sma50)), '#c8cad0', 56)}
      <div style={{ position: 'absolute', left: 8, top: 445, fontSize: 11.5, lineHeight: '16px', color: TXT, whiteSpace: 'nowrap' }}>
        <span>RSI (14, close)</span>
        <span style={{ color: RSI_C, marginLeft: 6 }}>{lastOf(rsiLine).toFixed(2)}</span>
        <span style={{ color: RSI_MA_C, marginLeft: 6 }}>{lastOf(rsiMa).toFixed(2)}</span>
      </div>
      <div style={{ position: 'absolute', left: 1167, top: 4, width: 54, height: 22, boxSizing: 'border-box', border: '1px solid #2a2e39', borderRadius: 4, background: '#181c27', color: TXT, fontSize: 11.5, lineHeight: '20px', paddingLeft: 8 }}>
        USD
      </div>
    </div>
  );
}
